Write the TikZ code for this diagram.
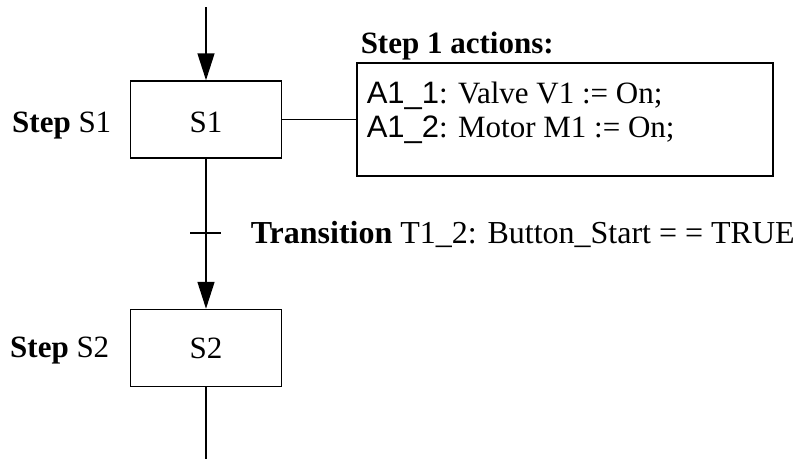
\documentclass[tikz,border=0pt]{standalone}
\usepackage{fontspec}
\setmainfont{Liberation Serif}
\setsansfont{Liberation Sans}
\usetikzlibrary{arrows.meta}
\begin{document}
\begin{tikzpicture}[x=1pt,y=-1pt,
  line width=1.5pt,
  every node/.style={font=\fontsize{31}{34}\selectfont, inner sep=0pt},
  stepbox/.style={draw, minimum width=151pt, minimum height=77pt},
  arr/.style={-{Triangle[length=27pt,width=17pt]}}]
\useasboundingbox (0,0) rectangle (800,459);
\node[stepbox] (s1) at (206,119.5) {};
\node[anchor=base] (s1t) at (206,132) {S1};
\node[stepbox] (s2) at (206,348) {};
\node[anchor=base] (s2t) at (206,358) {S2};
\node[draw, minimum width=416pt, minimum height=113pt] (act) at (565,119.5) {};
\node[anchor=base west] (a1) at (366,103) {\textsf{A1\_1}: Valve V1 := On;};
\node[anchor=base west] (a2) at (366,137) {\textsf{A1\_2}: Motor M1 := On;};
\node[anchor=base west] (acttitle) at (360,53) {\textbf{Step 1 actions:}};
\node[anchor=base east] (l1) at (112,132) {\textbf{Step} S1};
\node[anchor=base east] (l2) at (110,357) {\textbf{Step} S2};
\node[anchor=base west, font=\fontsize{32}{34}\selectfont] (tr) at (250,243) {\textbf{Transition} T1\_2: Button\_Start = = TRUE};
\coordinate (top) at (206,7);
\coordinate (bot) at (206,459);
\coordinate (t) at (206,233);
\draw[arr] (top) -- (s1.north);
\draw[arr] (s1.south) -- (s2.north);
\draw (s2.south) -- (bot);
\draw (s1.east) -- (act.west);
\draw ([xshift=-16pt]t) -- ([xshift=15pt]t);
\end{tikzpicture}
\end{document}
